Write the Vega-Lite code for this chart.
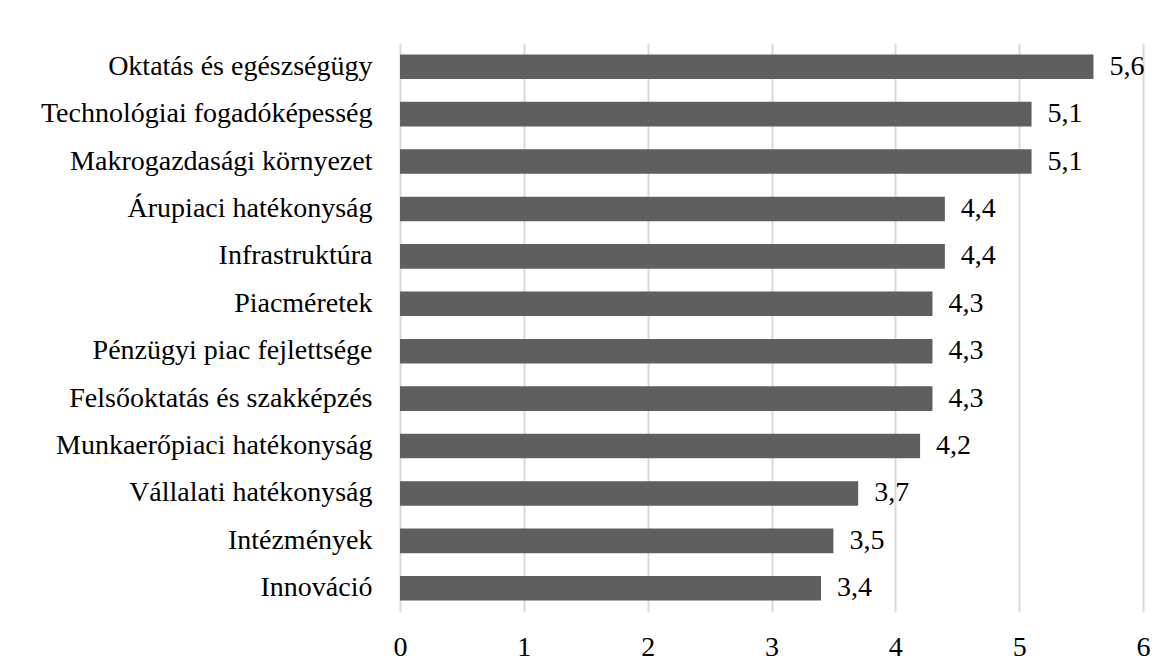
{
  "$schema": "https://vega.github.io/schema/vega-lite/v6.json",
  "width": 743,
  "height": 569,
  "autosize": {"type": "none"},
  "padding": {"left": 400, "top": 43, "right": 26, "bottom": 59},
  "background": "white",
  "config": {
    "locale": {"number": {"decimal": ",", "thousands": " ", "grouping": [3], "currency": ["", " Ft"]}},
    "view": {"stroke": null},
    "font": "Liberation Serif",
    "axis": {"labelFont": "Liberation Serif"},
    "text": {"font": "Liberation Serif"}
  },
  "data": {
    "values": [
      {"kategoria": "Oktatás és egészségügy", "ertek": 5.6},
      {"kategoria": "Technológiai fogadóképesség", "ertek": 5.1},
      {"kategoria": "Makrogazdasági környezet", "ertek": 5.1},
      {"kategoria": "Árupiaci hatékonyság", "ertek": 4.4},
      {"kategoria": "Infrastruktúra", "ertek": 4.4},
      {"kategoria": "Piacméretek", "ertek": 4.3},
      {"kategoria": "Pénzügyi piac fejlettsége", "ertek": 4.3},
      {"kategoria": "Felsőoktatás és szakképzés", "ertek": 4.3},
      {"kategoria": "Munkaerőpiaci hatékonyság", "ertek": 4.2},
      {"kategoria": "Vállalati hatékonyság", "ertek": 3.7},
      {"kategoria": "Intézmények", "ertek": 3.5},
      {"kategoria": "Innováció", "ertek": 3.4}
    ]
  },
  "encoding": {
    "y": {
      "field": "kategoria",
      "type": "nominal",
      "sort": null,
      "scale": {"paddingInner": 0.48, "paddingOuter": 0.24},
      "axis": {
        "title": null,
        "domain": false,
        "ticks": false,
        "grid": false,
        "labelPadding": 28,
        "labelFontSize": 28,
        "labelColor": "#000000",
        "labelLimit": 500
      }
    },
    "x": {
      "field": "ertek",
      "type": "quantitative",
      "scale": {"domain": [0, 6], "nice": false},
      "axis": {
        "title": null,
        "values": [0, 1, 2, 3, 4, 5, 6],
        "format": "d",
        "domain": false,
        "ticks": false,
        "grid": true,
        "gridColor": "#d9d9d9",
        "gridWidth": 2,
        "labelFlush": false,
        "labelPadding": 21,
        "labelFontSize": 28,
        "labelColor": "#000000"
      }
    }
  },
  "layer": [
    {"mark": {"type": "bar", "color": "#5f5f5f"}},
    {
      "mark": {"type": "text", "align": "left", "baseline": "middle", "dx": 16, "fontSize": 28, "color": "#000000"},
      "encoding": {"text": {"field": "ertek", "type": "quantitative", "format": ".1f"}}
    }
  ]
}
